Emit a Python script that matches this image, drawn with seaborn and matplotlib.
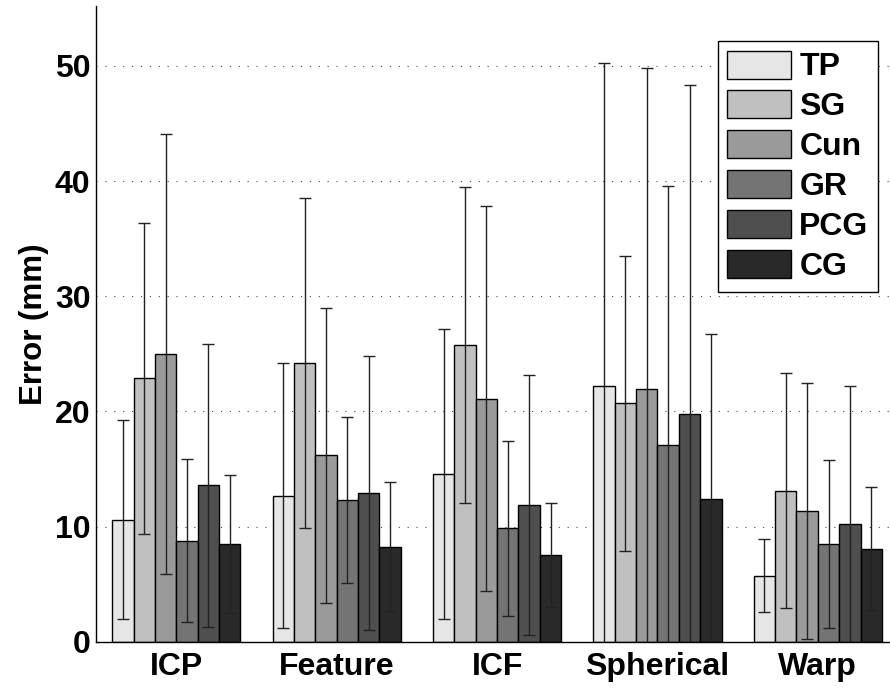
import pandas as pd
import matplotlib
matplotlib.use("Agg")
import matplotlib.pyplot as plt
import seaborn as sns


methods = ["ICP", "Feature", "ICF", "Spherical", "Warp"]
regions = ["TP", "SG", "Cun", "GR", "PCG", "CG"]

# mean error per method, one list per region
tp_mean = [10.6, 12.7, 14.6, 22.2, 5.75]
sg_mean = [22.9, 24.2, 25.8, 20.7, 13.1]
cun_mean = [25.0, 16.2, 21.1, 21.95, 11.35]
gr_mean = [8.8, 12.3, 9.85, 17.1, 8.5]
pcg_mean = [13.6, 12.95, 11.9, 19.75, 10.25]
cg_mean = [8.5, 8.25, 7.55, 12.4, 8.1]

# standard deviation (error bars)
tp_std = [8.65, 11.5, 12.6, 28.05, 3.15]
sg_std = [13.5, 14.3, 13.7, 12.8, 10.2]
cun_std = [19.1, 12.8, 16.7, 27.85, 11.1]
gr_std = [7.1, 7.2, 7.6, 22.5, 7.3]
pcg_std = [12.3, 11.9, 11.3, 28.55, 11.95]
cg_std = [6.0, 5.6, 4.5, 14.3, 5.35]

colors = ["#e6e6e6", "#c0c0c0", "#9a9a9a", "#747474", "#4f4f4f", "#292929"]

means = [tp_mean, sg_mean, cun_mean, gr_mean, pcg_mean, cg_mean]
stds = [tp_std, sg_std, cun_std, gr_std, pcg_std, cg_std]

rows = []
for reg, m_list, s_list in zip(regions, means, stds):
    for meth, m, s in zip(methods, m_list, s_list):
        rows.append({"Method": meth, "Region": reg, "Error": m, "Std": s})
df = pd.DataFrame(rows)

sns.set_theme(style="white")
plt.rcParams["font.family"] = ["Liberation Sans", "DejaVu Sans"]
plt.rcParams["font.weight"] = "bold"
plt.rcParams["text.color"] = "black"
plt.rcParams["axes.labelcolor"] = "black"
plt.rcParams["xtick.color"] = "black"
plt.rcParams["ytick.color"] = "black"

fig = plt.figure(figsize=(8.9, 6.88), dpi=100)
ax = fig.add_axes([0.108, 0.067, 0.892, 0.9243])

sns.barplot(
    data=df,
    x="Method",
    y="Error",
    hue="Region",
    order=methods,
    hue_order=regions,
    palette=colors,
    errorbar=None,
    saturation=1,
    edgecolor="black",
    linewidth=1,
    width=0.8,
    ax=ax,
    zorder=2
)

# error bars on top of each bar
for reg, bars in zip(regions, ax.containers):
    sub = df[df["Region"] == reg].set_index("Method").loc[methods]
    xs = sorted(b.get_x() + b.get_width() / 2 for b in bars)
    ax.errorbar(
        xs,
        sub["Error"].values,
        yerr=sub["Std"].values,
        fmt="none",
        ecolor="#222222",
        elinewidth=1,
        capsize=4.5,
        capthick=1,
        zorder=3
    )

ax.set_ylim(0, 55.2)
ax.set_xlim(-0.5, 4.45)
ax.set_yticks([0, 10, 20, 30, 40, 50])
ax.yaxis.grid(True, color="#444444", linestyle=(0, (1, 7)), linewidth=0.8, zorder=0)
ax.set_axisbelow(True)

ax.set_xlabel("")
ax.set_ylabel("Error (mm)", fontsize=22.5, fontweight="bold", labelpad=4)
ax.tick_params(axis="both", length=0, labelsize=23, pad=4)
ax.tick_params(axis="x", pad=7)
for lbl in ax.get_xticklabels() + ax.get_yticklabels():
    lbl.set_fontweight("bold")

for side in ["top", "right"]:
    ax.spines[side].set_visible(False)
for side in ["left", "bottom"]:
    ax.spines[side].set_color("black")
    ax.spines[side].set_linewidth(1)

handles, labels = ax.get_legend_handles_labels()
leg = ax.legend(
    handles,
    labels,
    loc="upper right",
    bbox_to_anchor=(0.985, 0.945),
    borderaxespad=0,
    prop={"size": 23, "weight": "bold"},
    handlelength=2.0,
    handleheight=0.97,
    labelspacing=0.25,
    handletextpad=0.25,
    borderpad=0.3,
    fancybox=False,
    framealpha=1
)
leg.get_frame().set_edgecolor("black")
leg.get_frame().set_linewidth(1)

fig.savefig("out.png", dpi=100)
